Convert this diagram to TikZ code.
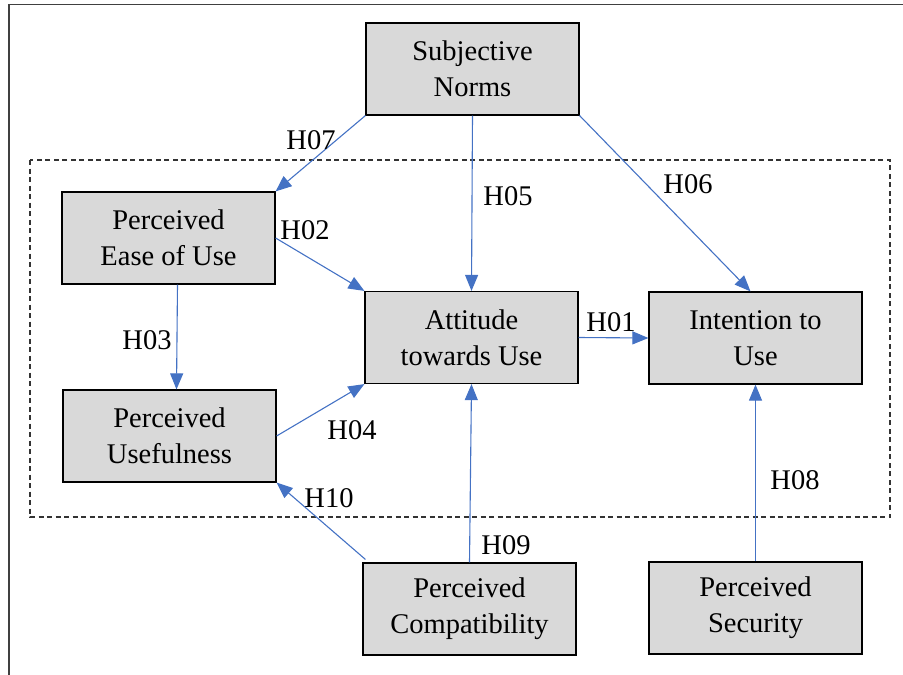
\documentclass[tikz,border=0pt]{standalone}
\usepackage{fontspec}
\setmainfont{Liberation Serif}
\usepackage{xcolor}
\usetikzlibrary{arrows.meta}

\definecolor{boxgray}{HTML}{D9D9D9}
\definecolor{linkblue}{HTML}{4472C4}
\tikzset{
  construct/.style={draw=black, fill=boxgray, line width=1.2pt,
    minimum width=213pt, minimum height=92pt, inner sep=0pt,
    align=center, font=\fontsize{28.5}{36}\selectfont},
  hyp/.style={draw=linkblue, line width=1.1pt,
    -{Triangle[length=16pt,width=13pt]}},
  hlabel/.style={font=\fontsize{28.5}{36}\selectfont, inner sep=0pt}
}

\begin{document}
\begin{tikzpicture}[x=1pt, y=-1pt]
  \useasboundingbox (0,0) rectangle (903,675);
  % frame and model boundary
  \draw[line width=1.8pt, black!75] (9,675) -- (9,4.5) -- (903,4.5);
  \draw[dashed, dash pattern=on 5pt off 3.5pt, line width=1.1pt, black!80]
    (30,160) rectangle (890,517);

  \node[construct] (sn)   at (472.5,69)  {Subjective\\Norms};
  \node[construct] (peou) at (168.5,238) {Perceived\\Ease of Use};
  \node[construct] (att)  at (471.5,337.5) {Attitude\\towards Use};
  \node[construct] (int)  at (755.5,338) {Intention to\\Use};
  \node[construct] (pu)   at (169.5,436) {Perceived\\Usefulness};
  \node[construct] (pc)   at (469.5,609) {Perceived\\Compatibility};
  \node[construct] (ps)   at (755.5,608) {Perceived\\Security};

  \draw[hyp] (att.east) -- (int.west);
  \draw[hyp] (peou.east) -- (att.north west);
  \draw[hyp] ([xshift=9pt]peou.south) -- ([xshift=7pt]pu.north);
  \draw[hyp] (pu.east) -- (att.south west);
  \draw[hyp] (sn.south) -- (att.north);
  \draw[hyp] (sn.south east) -- ([xshift=-5pt]int.north);
  \draw[hyp] (sn.south west) -- (peou.north east);
  \draw[hyp] (ps.north) -- (int.south);
  \draw[hyp] (pc.north) -- (att.south);
  \draw[hyp] ([shift={(3pt,3pt)}]pc.north west) -- (pu.south east);

  \node[hlabel] (h01) at (611,322) {H01};
  \node[hlabel] (h02) at (305,230) {H02};
  \node[hlabel] (h03) at (147,340) {H03};
  \node[hlabel] (h04) at (352,430) {H04};
  \node[hlabel] (h05) at (508,196) {H05};
  \node[hlabel] (h06) at (688,184) {H06};
  \node[hlabel] (h07) at (311,140) {H07};
  \node[hlabel] (h08) at (795,480) {H08};
  \node[hlabel] (h09) at (506,545) {H09};
  \node[hlabel] (h10) at (329,498) {H10};
\end{tikzpicture}
\end{document}
